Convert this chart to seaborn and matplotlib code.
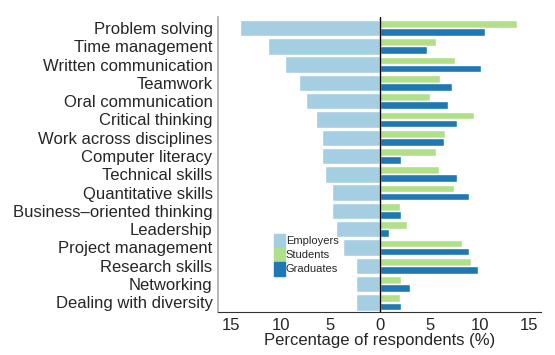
import pandas as pd
import matplotlib
matplotlib.use('Agg')
import matplotlib.pyplot as plt
import matplotlib.patches as mpatches
import seaborn as sns

skills = ['Problem solving', 'Time management', 'Written communication', 'Teamwork',
          'Oral communication', 'Critical thinking', 'Work across disciplines',
          'Computer literacy', 'Technical skills', 'Quantitative skills',
          'Business\u2013oriented thinking', 'Leadership', 'Project management',
          'Research skills', 'Networking', 'Dealing with diversity']
employers = [14.1, 11.3, 9.6, 8.2, 7.5, 6.5, 5.8, 5.8, 5.5, 4.8, 4.8, 4.4, 3.7, 2.4, 2.4, 2.4]
students = [13.8, 5.6, 7.5, 6.0, 5.0, 9.4, 6.5, 5.6, 5.9, 7.4, 2.0, 2.7, 8.2, 9.1, 2.1, 2.0]
graduates = [10.6, 4.7, 10.2, 7.2, 6.8, 7.7, 6.4, 2.1, 7.7, 8.9, 2.1, 0.85, 8.9, 9.8, 3.0, 2.1]

colors = {'Employers': '#a6cee3', 'Students': '#b2df8a', 'Graduates': '#1f78b4'}

emp_df = pd.DataFrame({'Skill': skills, 'Value': [-v for v in employers]})
sg_df = pd.concat([
    pd.DataFrame({'Skill': skills, 'Value': students, 'Group': 'Students'}),
    pd.DataFrame({'Skill': skills, 'Value': graduates, 'Group': 'Graduates'}),
], ignore_index=True)

sns.set_style('white')
plt.rcParams['font.family'] = ['Liberation Sans', 'DejaVu Sans']

fig = plt.figure(figsize=(5.55, 3.55), dpi=100)
ax = fig.add_axes([0.393, 0.12, 0.582, 0.832])

sns.barplot(data=emp_df, x='Value', y='Skill', order=skills, color=colors['Employers'],
            width=0.9, saturation=1, orient='h', ax=ax)
sns.barplot(data=sg_df, x='Value', y='Skill', order=skills, hue='Group',
            hue_order=['Students', 'Graduates'], palette=colors, width=0.88, gap=0.04,
            saturation=1, orient='h', ax=ax, legend=False)

ax.axvline(0, color='black', lw=1)
ax.set_xlim(-16.3, 16.2)
ax.set_ylim(15.55, -0.6)
ticks = [-15, -10, -5, 0, 5, 10, 15]
ax.set_xticks(ticks)
ax.set_xticklabels([str(abs(t)) for t in ticks], fontsize=12)
ax.tick_params(axis='y', labelsize=12, length=2, color='#999999', pad=2)
ax.tick_params(axis='x', length=3, color='#333333', pad=1)
ax.set_ylabel('')
ax.set_xlabel('Percentage of respondents (%)', fontsize=12, labelpad=0)

for s in ['top', 'right']:
    ax.spines[s].set_visible(False)
ax.spines['left'].set_color('#aaaaaa')
ax.spines['left'].set_linewidth(1.2)
ax.spines['bottom'].set_color('#333333')

handles = [mpatches.Patch(color=colors[k], label=k) for k in ['Employers', 'Students', 'Graduates']]
ax.legend(handles=handles, loc='upper left', bbox_to_anchor=(0.155, 0.285), frameon=False,
          fontsize=8, handlelength=1.0, handleheight=1.5, labelspacing=0.05,
          handletextpad=0.1, borderpad=0)

fig.savefig('out.png', dpi=100)
